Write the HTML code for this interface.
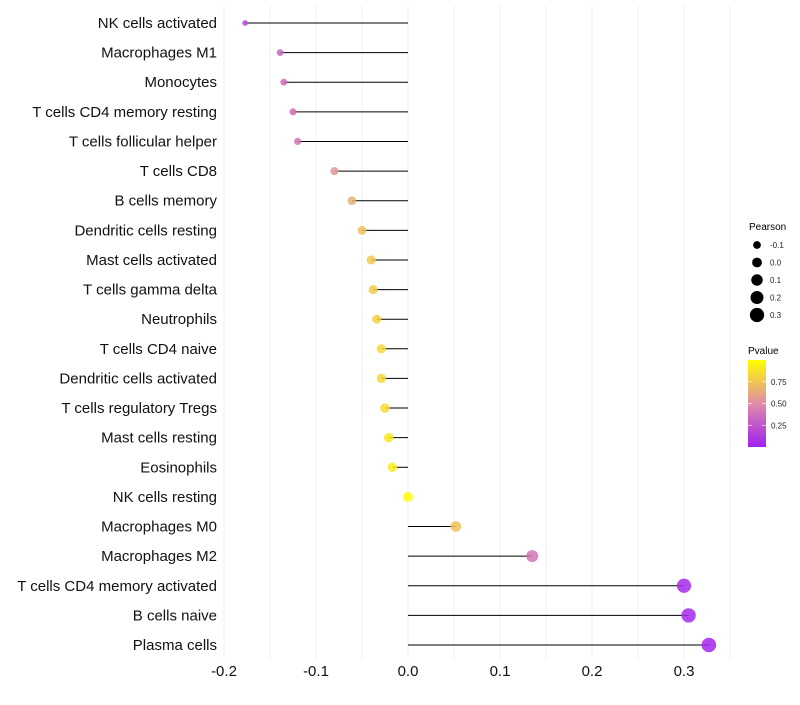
<!DOCTYPE html>
<html><head><meta charset="utf-8"><style>
body{margin:0;background:#fff;font-family:"Liberation Sans",sans-serif}
</style></head><body>
<svg id="chart" width="800" height="700">
<defs><linearGradient id="pg" x1="0" y1="1" x2="0" y2="0">
<stop offset="0" stop-color="#A020F0"/><stop offset="0.5" stop-color="#E08CA8"/><stop offset="1" stop-color="#FFFF00"/>
</linearGradient></defs>
<g id="grid"></g>
<g id="marks"></g>
<g id="labels"></g>
<g id="legend">
<text x="749" y="230" font-size="10">Pearson</text>
<text x="748" y="354" font-size="10">Pvalue</text>
<rect x="748" y="360" width="18" height="87" fill="url(#pg)"/>
</g>
</svg>
<script>
const categories=["NK cells activated","Macrophages M1","Monocytes","T cells CD4 memory resting","T cells follicular helper","T cells CD8","B cells memory","Dendritic cells resting","Mast cells activated","T cells gamma delta","Neutrophils","T cells CD4 naive","Dendritic cells activated","T cells regulatory  Tregs ","Mast cells resting","Eosinophils","NK cells resting","Macrophages M0","Macrophages M2","T cells CD4 memory activated","B cells naive","Plasma cells"];
const pearson=[-0.177,-0.139,-0.135,-0.125,-0.12,-0.080,-0.061,-0.050,-0.040,-0.038,-0.034,-0.029,-0.029,-0.025,-0.021,-0.017,0.0,0.052,0.135,0.300,0.305,0.327];
const pvalue=[0.2,0.32,0.34,0.38,0.4,0.55,0.65,0.72,0.77,0.78,0.8,0.83,0.83,0.86,0.9,0.92,0.99,0.74,0.4,0.05,0.04,0.03];
const xTicks=[-0.2,-0.1,0.0,0.1,0.2,0.3];
const xTickLabels=["-0.2","-0.1","0.0","0.1","0.2","0.3"];
const sizeLegend=[-0.1,0.0,0.1,0.2,0.3];
const sizeLegendLabels=["-0.1","0.0","0.1","0.2","0.3"];
const colorTicks=[0.25,0.5,0.75];
const colorTickLabels=["0.25","0.50","0.75"];
const NS="http://www.w3.org/2000/svg";
const X=v=>408+v*920;
const Y=i=>23+i*(622/(categories.length-1));
const R=v=>Math.sqrt(Math.max(4,24+90*v));
const CY=p=>447-p*87;
function lerp(a,b,t){return a.map((x,i)=>Math.round(x+(b[i]-x)*t));}
function col(p){const A=[160,32,240],M=[224,140,168],B=[255,255,0];const c=p<0.5?lerp(A,M,p/0.5):lerp(M,B,(p-0.5)/0.5);return `rgb(${c.join(',')})`;}
function mk(tag,at,parent,txt){const e=document.createElementNS(NS,tag);for(const k in at)e.setAttribute(k,at[k]);if(txt!=null)e.textContent=txt;parent.appendChild(e);return e;}
const grid=document.getElementById('grid'),marks=document.getElementById('marks'),labels=document.getElementById('labels'),legend=document.getElementById('legend');
for(let k=-0.25;k<=0.351;k+=0.05){const x=X(k);if(x<210||x>732)continue;const g=mk('line',{x1:x,x2:x,y1:5,y2:660,stroke:'#f0f0f0','stroke-width':1},grid);

}
xTicks.forEach((t,i)=>{const e=mk('text',{x:X(t),y:676,'font-size':15,'text-anchor':'middle',fill:'#111'},labels,xTickLabels[i]);

});
categories.forEach((c,i)=>{const y=Y(i);
const t=mk('text',{x:217,y:y+5,'font-size':15,'text-anchor':'end',fill:'#111'},labels,c);


const l=mk('line',{x1:X(0),x2:X(pearson[i]),y1:y,y2:y,stroke:'#000','stroke-width':1},marks);


const d=mk('circle',{cx:X(pearson[i]),cy:y,r:R(pearson[i]),fill:col(pvalue[i]),'fill-opacity':0.85},marks);

});
sizeLegend.forEach((v,i)=>{const y=245+i*17.5;
const c=mk('circle',{cx:757,cy:y,r:R(v),fill:'#000'},legend);


const t=mk('text',{x:770,y:y+3,'font-size':8,fill:'#222'},legend,sizeLegendLabels[i]);

});
colorTicks.forEach((v,i)=>{const y=CY(v);
mk('line',{x1:748,x2:752,y1:y,y2:y,stroke:'#fff','stroke-width':0.6},legend);
mk('line',{x1:762,x2:766,y1:y,y2:y,stroke:'#fff','stroke-width':0.6},legend);
const t=mk('text',{x:771,y:y+3,'font-size':8,fill:'#222'},legend,colorTickLabels[i]);

});
</script>
</body></html>
